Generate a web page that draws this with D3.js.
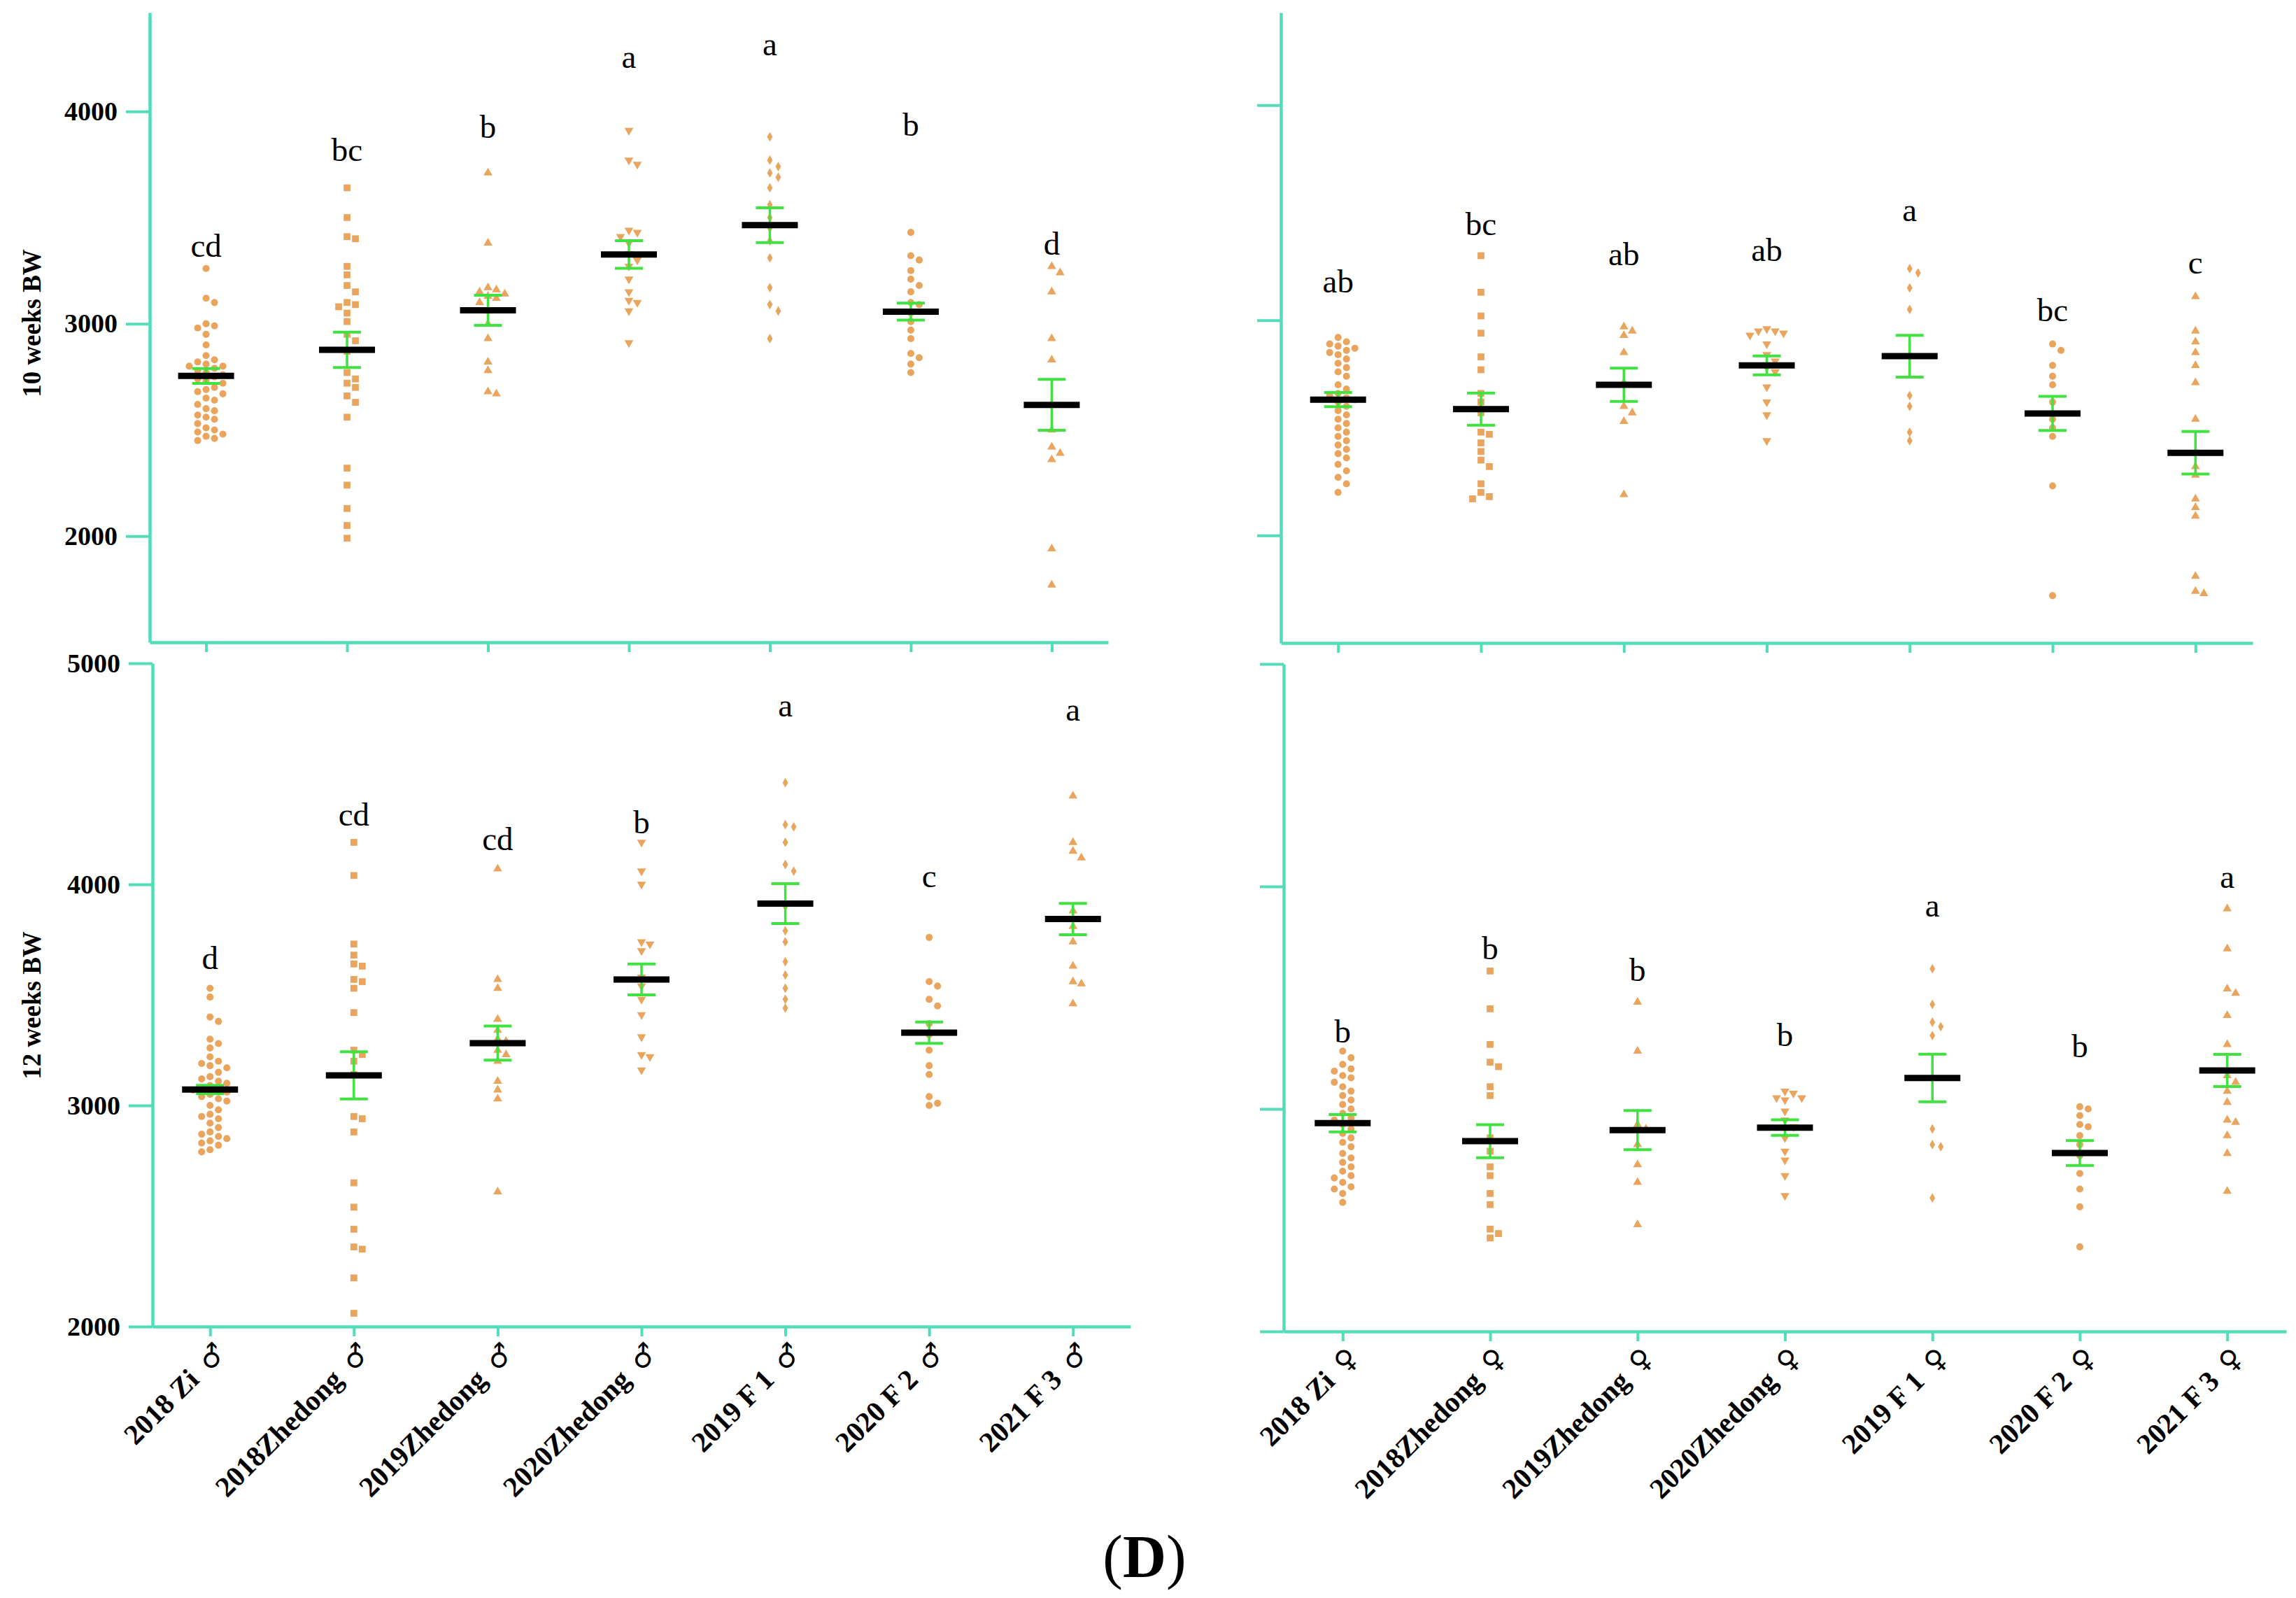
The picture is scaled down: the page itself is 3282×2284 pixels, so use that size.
<!DOCTYPE html>
<html>
<head>
<meta charset="utf-8">
<script src="https://cdnjs.cloudflare.com/ajax/libs/d3/7.8.5/d3.min.js"></script>
<style>
  body { margin: 0; background: #ffffff; }
  svg { display: block; }
</style>
</head>
<body>
<script>
// ---- data (body weight, g) ----
var groupsMale = ["2018 Zi \u2642", "2018Zhedong \u2642", "2019Zhedong \u2642", "2020Zhedong \u2642", "2019 F 1 \u2642", "2020 F 2 \u2642", "2021 F 3 \u2642"];
var groupsFemale = ["2018 Zi \u2640", "2018Zhedong \u2640", "2019Zhedong \u2640", "2020Zhedong \u2640", "2019 F 1 \u2640", "2020 F 2 \u2640", "2021 F 3 \u2640"];

var ticksTop = [2000, 3000, 4000];
var ticksBottom = [2000, 3000, 4000, 5000];

// 10 weeks, male
var bw10m = [
  [3260,3120,3100,3000,2990,2980,2950,2900,2850,2830,2820,2810,2800,2800,2790,2780,2770,2760,2750,2740,2730,2720,2700,2690,2680,2670,2650,2640,2620,2600,2590,2570,2560,2550,2530,2510,2500,2490,2480,2470,2460,2450],
  [3640,3500,3410,3400,3270,3230,3180,3150,3100,3090,3080,3050,3010,2950,2920,2870,2770,2740,2720,2700,2660,2630,2560,2320,2240,2130,2050,1990],
  [3710,3380,3170,3160,3150,3140,3130,3120,3100,3060,3000,2930,2820,2780,2680,2670],
  [3910,3770,3750,3440,3430,3410,3380,3330,3300,3270,3210,3150,3110,3100,3060,2910],
  [3880,3770,3740,3710,3690,3640,3560,3500,3450,3390,3310,3170,3090,3060,2930],
  [3430,3320,3300,3250,3210,3180,3150,3100,3090,3050,3010,2970,2930,2860,2840,2810,2770],
  [3270,3240,3150,2930,2830,2620,2500,2420,2390,2360,1940,1770]
];
var mean10m = [2754, 2877, 3063, 3326, 3464, 3057, 2618];
var sem10m = [35, 83, 71, 65, 82, 40, 120];
var letters10m = ["cd", "bc", "b", "a", "a", "b", "d"];
var letterAt10m = [3316, 3766, 3875, 4204, 4263, 3885, 3326];

// 10 weeks, female
var bw10f = [
  [2920,2900,2890,2880,2870,2860,2850,2840,2820,2800,2780,2760,2740,2700,2680,2660,2650,2640,2630,2620,2600,2580,2560,2540,2520,2500,2480,2460,2440,2420,2400,2380,2360,2330,2300,2270,2240,2200],
  [3300,3130,3020,2940,2830,2770,2660,2620,2570,2480,2470,2430,2390,2350,2320,2240,2200,2180,2170],
  [2970,2950,2930,2850,2710,2600,2570,2530,2190],
  [2960,2950,2950,2940,2930,2890,2840,2810,2780,2760,2690,2620,2560,2440],
  [3240,3220,3150,3050,2650,2600,2480,2440],
  [2890,2860,2790,2740,2700,2620,2540,2500,2460,2230,1720],
  [3110,2950,2900,2850,2790,2710,2540,2320,2280,2170,2130,2090,1810,1740,1730]
];
var mean10f = [2631, 2587, 2700, 2790, 2833, 2567, 2384];
var sem10f = [33, 75, 77, 44, 97, 79, 99];
var letters10f = ["ab", "bc", "ab", "ab", "a", "bc", "c"];
var letterAt10f = [3129, 3395, 3257, 3277, 3460, 2995, 3218];

// 12 weeks, male
var bw12m = [
  [3530,3490,3400,3380,3300,3280,3260,3220,3200,3190,3180,3170,3150,3130,3120,3110,3100,3090,3080,3070,3070,3060,3050,3040,3030,3020,3000,2980,2960,2950,2940,2920,2900,2880,2870,2860,2850,2840,2830,2820,2800,2790],
  [4190,4040,3730,3680,3640,3630,3570,3560,3530,3420,3250,3230,3200,3140,2950,2940,2880,2650,2540,2440,2360,2350,2220,2060],
  [4070,3570,3530,3390,3340,3300,3290,3250,3230,3200,3110,3070,3030,2610],
  [4190,4060,4000,3740,3730,3700,3580,3540,3480,3410,3310,3230,3220,3160],
  [4460,4270,4260,4190,4090,4060,3900,3790,3740,3650,3590,3530,3480,3440],
  [3760,3560,3540,3480,3450,3370,3320,3250,3180,3140,3040,3010,3000],
  [4400,4190,4150,4120,3880,3810,3740,3630,3560,3550,3460]
];
var mean12m = [3072, 3136, 3282, 3570, 3913, 3329, 3843];
var sem12m = [19, 107, 77, 70, 90, 48, 71];
var letters12m = ["d", "cd", "cd", "b", "a", "c", "a"];
var letterAt12m = [3617, 4266, 4154, 4232, 4758, 3986, 4741];

// 12 weeks, female
var bw12f = [
  [3260,3230,3200,3180,3170,3150,3140,3120,3100,3080,3060,3040,3020,3000,2980,2960,2950,2930,2910,2890,2870,2850,2830,2800,2780,2760,2740,2720,2700,2690,2670,2650,2640,2620,2580],
  [3620,3450,3290,3210,3190,3100,3060,2870,2810,2740,2700,2620,2570,2460,2440,2420],
  [3480,3260,2930,2910,2840,2750,2670,2480],
  [3080,3070,3050,3050,3040,2990,2950,2920,2870,2810,2770,2700,2610],
  [3630,3470,3390,3370,3330,2910,2840,2830,2600],
  [3010,3000,2970,2930,2920,2880,2840,2790,2710,2640,2560,2380],
  [3900,3720,3540,3520,3420,3290,3150,3120,3080,3030,2950,2940,2880,2800,2630]
];
var mean12f = [2936, 2855, 2905, 2916, 3139, 2802, 3173];
var sem12f = [39, 74, 88, 35, 107, 56, 72];
var letters12f = ["b", "b", "b", "b", "a", "b", "a"];
var letterAt12f = [3298, 3674, 3577, 3284, 3864, 3234, 3994];

// ---- styles ----
var axisColor = "#52dcb9";
var dotColor = "#e9a55e";
var semColor = "#3fe23f";
var serif = "'Liberation Serif', 'Times New Roman', 'DejaVu Serif', serif";
var symbolTypes = [d3.symbolCircle, d3.symbolSquare, d3.symbolTriangle, d3.symbolTriangle, d3.symbolDiamond, d3.symbolCircle, d3.symbolTriangle];
var symbolSizes = [80, 95, 70, 70, 55, 80, 70];
var symbolFlip = [false, false, false, true, false, false, false];

var svg = d3.select("body").append("svg")
  .attr("width", 3282)
  .attr("height", 2284);
svg.append("rect").attr("width", 3282).attr("height", 2284).attr("fill", "#ffffff");

var panels = [
  { groups: groupsMale, values: bw10m, mean: mean10m, sem: sem10m, letters: letters10m, letterAt: letterAt10m,
    x0: 214, x1: 1584, yDomain: [1500, 4465], yRange: [918, 18], ticks: ticksTop, tickLabels: true, xLabels: false,
    title: "10 weeks BW", titleShift: -6 },
  { groups: groupsFemale, values: bw10f, mean: mean10f, sem: sem10f, letters: letters10f, letterAt: letterAt10f,
    x0: 1831, x1: 3220, yDomain: [1500, 4430], yRange: [919, 18], ticks: ticksTop, tickLabels: false, xLabels: false, title: null },
  { groups: groupsMale, values: bw12m, mean: mean12m, sem: sem12m, letters: letters12m, letterAt: letterAt12m,
    x0: 218, x1: 1616, yDomain: [2000, 5000], yRange: [1896, 948], ticks: ticksBottom, tickLabels: true, xLabels: true,
    title: "12 weeks BW", titleShift: 15 },
  { groups: groupsFemale, values: bw12f, mean: mean12f, sem: sem12f, letters: letters12f, letterAt: letterAt12f,
    x0: 1835, x1: 3268, yDomain: [2000, 5000], yRange: [1903, 949], ticks: ticksBottom, tickLabels: false, xLabels: true, title: null }
];

panels.forEach(drawPanel);

// panel tag
svg.append("text")
  .attr("x", 1636).attr("y", 2254)
  .attr("text-anchor", "middle")
  .attr("font-family", serif)
  .attr("font-size", 86)
  .attr("fill", "#000")
  .html("(<tspan font-weight='bold'>D</tspan>)");

// lay out one group like a scatter-dot column: each point takes the nearest free slot
function swarm(vals, y, step) {
  var placed = [];
  var sorted = vals.slice().sort(function(a, b) { return b - a; });
  sorted.forEach(function(v) {
    var py = y(v);
    var k = 0, off = 0;
    while (true) {
      off = (k === 0) ? 0 : (k % 2 === 1 ? 1 : -1) * Math.ceil(k / 2) * step;
      var clash = placed.some(function(p) {
        var dx = p.dx - off, dy = p.y - py;
        return dx * dx + dy * dy < step * step * 0.95;
      });
      if (!clash) break;
      k++;
    }
    placed.push({ v: v, y: py, dx: off });
  });
  return placed;
}

function drawPanel(p) {
  var g = svg.append("g");
  var x = d3.scalePoint().domain(p.groups).range([p.x0, p.x1]).padding(0.4);
  var y = d3.scaleLinear().domain(p.yDomain).range(p.yRange);
  var xAxisY = p.yRange[0];

  // dots
  p.groups.forEach(function(name, i) {
    var pts = swarm(p.values[i], y, 12);
    var sym = d3.symbol().type(symbolTypes[i]).size(symbolSizes[i]);
    g.append("g").selectAll("path")
      .data(pts)
      .join("path")
      .attr("d", sym)
      .attr("fill", dotColor)
      .attr("transform", function(d) {
        return "translate(" + (x(name) + d.dx) + "," + d.y + ")" + (symbolFlip[i] ? " rotate(180)" : "");
      });
  });

  // SEM whiskers
  var err = g.append("g").selectAll("g")
    .data(p.groups)
    .join("g")
    .attr("stroke", semColor);
  err.append("line")
    .attr("x1", function(d) { return x(d); })
    .attr("x2", function(d) { return x(d); })
    .attr("y1", function(d, i) { return y(p.mean[i] + p.sem[i]); })
    .attr("y2", function(d, i) { return y(p.mean[i] - p.sem[i]); })
    .attr("stroke-width", 3.5);
  [1, -1].forEach(function(s) {
    err.append("line")
      .attr("x1", function(d) { return x(d) - 20; })
      .attr("x2", function(d) { return x(d) + 20; })
      .attr("y1", function(d, i) { return y(p.mean[i] + s * p.sem[i]); })
      .attr("y2", function(d, i) { return y(p.mean[i] + s * p.sem[i]); })
      .attr("stroke-width", 4);
  });

  // mean bars
  g.append("g").selectAll("line")
    .data(p.groups)
    .join("line")
    .attr("x1", function(d) { return x(d) - 40; })
    .attr("x2", function(d) { return x(d) + 40; })
    .attr("y1", function(d, i) { return y(p.mean[i]); })
    .attr("y2", function(d, i) { return y(p.mean[i]); })
    .attr("stroke", "#000")
    .attr("stroke-width", 9);

  // significance letters
  g.append("g").selectAll("text")
    .data(p.groups)
    .join("text")
    .attr("x", function(d) { return x(d); })
    .attr("y", function(d, i) { return y(p.letterAt[i]); })
    .attr("text-anchor", "middle")
    .attr("font-family", serif)
    .attr("font-size", 47)
    .attr("fill", "#000")
    .text(function(d, i) { return p.letters[i]; });

  // y axis
  var yAxis = d3.axisLeft(y)
    .tickValues(p.ticks)
    .tickSize(34)
    .tickSizeOuter(0)
    .tickPadding(12)
    .tickFormat(p.tickLabels ? d3.format("d") : function() { return ""; });
  var ya = g.append("g")
    .attr("transform", "translate(" + p.x0 + ",0)")
    .call(yAxis);
  ya.select(".domain").attr("stroke", axisColor).attr("stroke-width", 4.5);
  ya.selectAll(".tick line").attr("stroke", axisColor).attr("stroke-width", 4);
  ya.selectAll(".tick text")
    .attr("font-family", serif)
    .attr("font-weight", "bold")
    .attr("font-size", 38)
    .attr("fill", "#000");

  // x axis
  var xAxis = d3.axisBottom(x)
    .tickSize(14)
    .tickSizeOuter(0)
    .tickFormat(function() { return ""; });
  var xa = g.append("g")
    .attr("transform", "translate(0," + xAxisY + ")")
    .call(xAxis);
  xa.select(".domain").attr("stroke", axisColor).attr("stroke-width", 4.5);
  xa.selectAll(".tick line").attr("stroke", axisColor).attr("stroke-width", 4);

  if (p.xLabels) {
    xa.selectAll(".tick text").each(function(d) {
      var cut = d.lastIndexOf(" ");
      var t = d3.select(this)
        .text(null)
        .attr("x", 0).attr("y", 0).attr("dy", null)
        .attr("transform", "translate(24,40) rotate(-45)")
        .attr("text-anchor", "end")
        .attr("font-family", serif)
        .attr("font-weight", "bold")
        .attr("font-size", 41)
        .attr("fill", "#000");
      t.append("tspan").text(d.slice(0, cut + 1));
      t.append("tspan")
        .attr("dx", 8)
        .attr("font-family", "'DejaVu Sans', sans-serif")
        .attr("font-size", 40)
        .text(d.slice(cut + 1));
    });
  }

  // y title
  if (p.title) {
    var cy = (p.yRange[0] + p.yRange[1]) / 2 + p.titleShift;
    g.append("text")
      .attr("transform", "translate(58," + cy + ") rotate(-90)")
      .attr("text-anchor", "middle")
      .attr("font-family", serif)
      .attr("font-weight", "bold")
      .attr("font-size", 37)
      .attr("fill", "#000")
      .text(p.title);
  }
}
</script>
</body>
</html>
